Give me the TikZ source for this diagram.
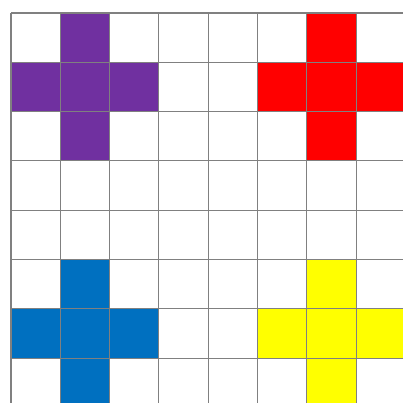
\documentclass[tikz,border=0pt]{standalone}
\definecolor{cpurple}{RGB}{112,48,160}
\definecolor{cred}{RGB}{255,0,0}
\definecolor{cblue}{RGB}{0,112,192}
\definecolor{cyellow}{RGB}{255,255,0}
\definecolor{gridgray}{RGB}{128,128,128}
\tikzset{gridline/.style={draw=gridgray,line width=1.1pt}}
\begin{document}
\begin{tikzpicture}[x=1pt,y=-1pt]
\useasboundingbox (0,0) rectangle (403,403);
\fill[white] (0,0) rectangle (403,403);
\clip (0,0) rectangle (403,403);
\def\cs{49.3}
\def\ox{11}
\def\oy{13}
% crosses: color, center column, center row
\foreach \col/\cc/\rr in {cpurple/1/1, cred/6/1, cblue/1/6, cyellow/6/6}{
  \foreach \dc/\dr in {0/-1,-1/0,0/0,1/0,0/1}{
    \pgfmathsetmacro{\xa}{\ox+(\cc+\dc)*\cs}
    \pgfmathsetmacro{\ya}{\oy+(\rr+\dr)*\cs}
    \fill[\col] (\xa,\ya) rectangle ++(\cs,\cs);
  }
}
\foreach \i in {0,...,8}{
  \pgfmathsetmacro{\p}{\ox+\i*\cs}
  \draw[gridline] (\p,\oy) -- (\p,420);
  \pgfmathsetmacro{\q}{\oy+\i*\cs}
  \draw[gridline] (\ox,\q) -- (420,\q);
}
\end{tikzpicture}
\end{document}
